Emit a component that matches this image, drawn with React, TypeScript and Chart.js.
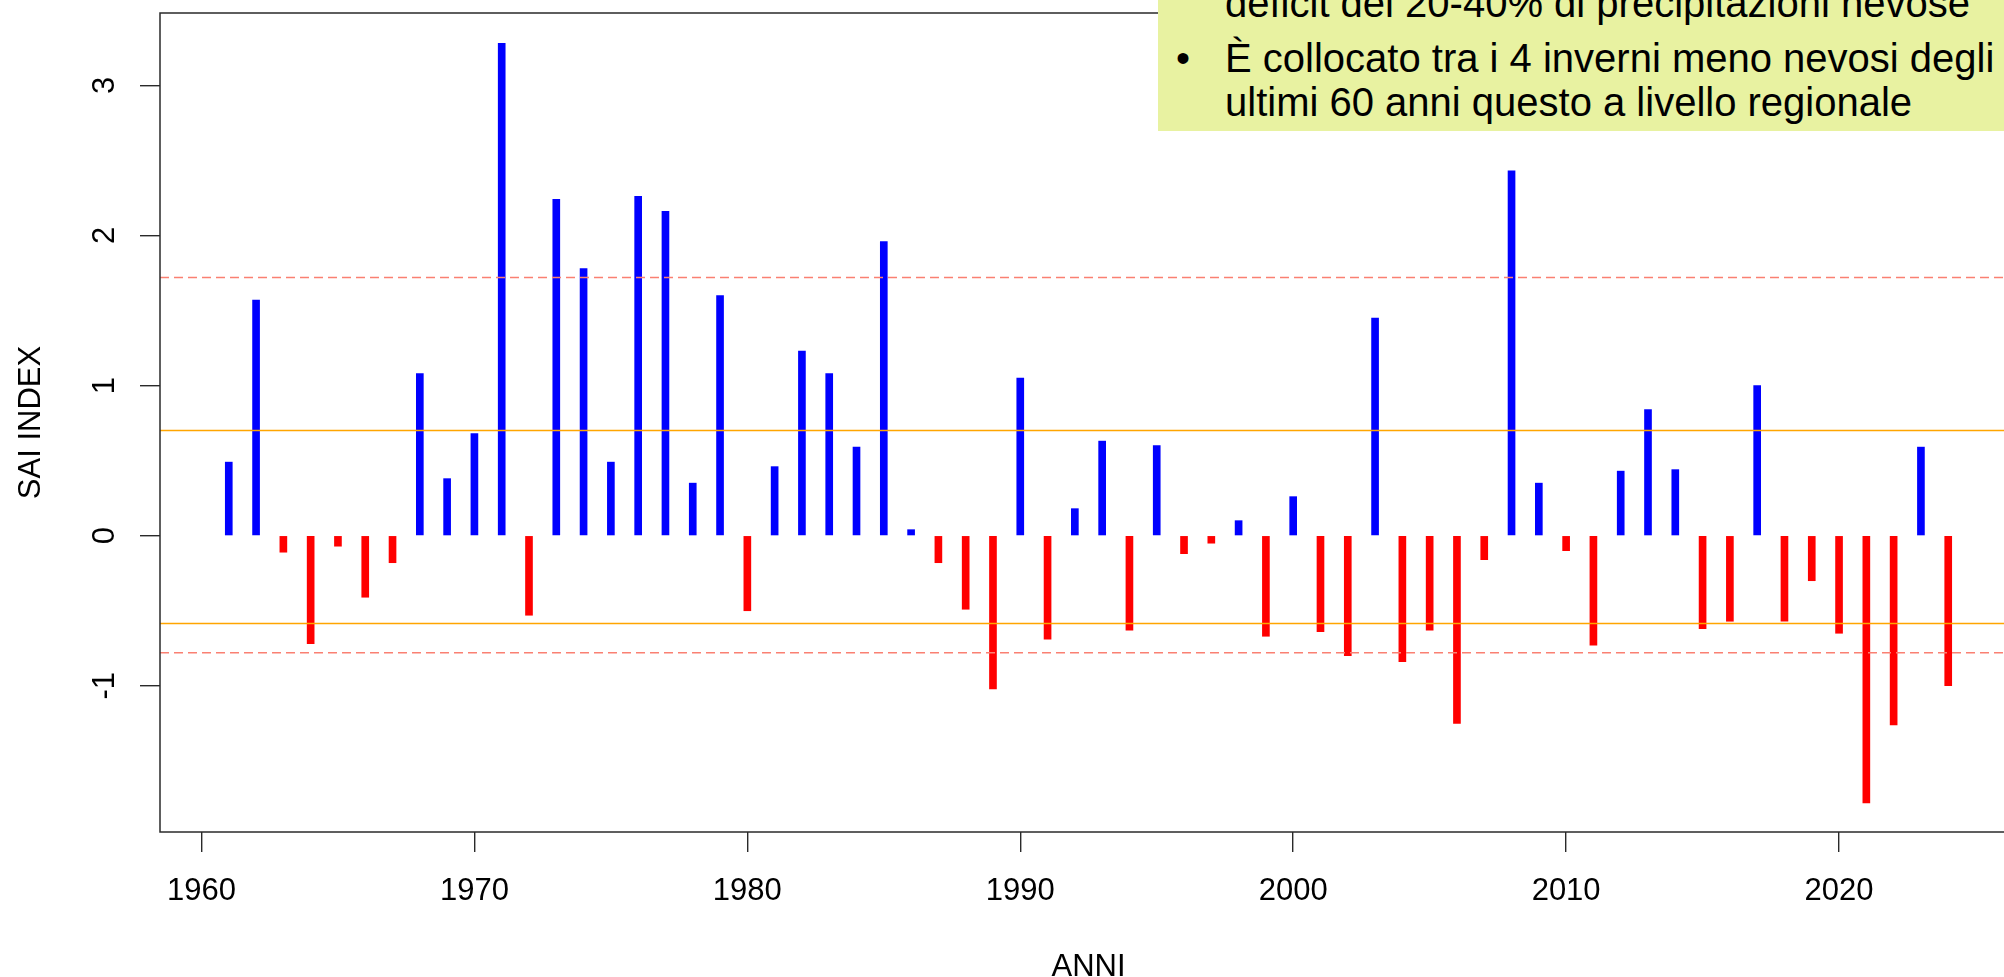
import React, { useEffect, useRef } from "react";
import { Chart, registerables } from "chart.js";

Chart.register(...registerables);

// ---- data ----
const YEARS = [
  1961, 1962, 1963, 1964, 1965, 1966, 1967, 1968, 1969, 1970,
  1971, 1972, 1973, 1974, 1975, 1976, 1977, 1978, 1979, 1980,
  1981, 1982, 1983, 1984, 1985, 1986, 1987, 1988, 1989, 1990,
  1991, 1992, 1993, 1994, 1995, 1996, 1997, 1998, 1999, 2000,
  2001, 2002, 2003, 2004, 2005, 2006, 2007, 2008, 2009, 2010,
  2011, 2012, 2013, 2014, 2015, 2016, 2017, 2018, 2019, 2020,
  2021, 2022, 2023, 2024,
];
const SAI = [
  0.49, 1.57, -0.11, -0.72, -0.07, -0.41, -0.18, 1.08, 0.38, 0.68,
  3.28, -0.53, 2.24, 1.78, 0.49, 2.26, 2.16, 0.35, 1.6, -0.5,
  0.46, 1.23, 1.08, 0.59, 1.96, 0.04, -0.18, -0.49, -1.02, 1.05,
  -0.69, 0.18, 0.63, -0.63, 0.6, -0.12, -0.05, 0.1, -0.67, 0.26,
  -0.64, -0.8, 1.45, -0.84, -0.63, -1.25, -0.16, 2.43, 0.35, -0.1,
  -0.73, 0.43, 0.84, 0.44, -0.62, -0.57, 1.0, -0.57, -0.3, -0.65,
  -1.78, -1.26, 0.59, -1.0,
];
const X_TICKS = [1960, 1970, 1980, 1990, 2000, 2010, 2020];
const Y_TICKS = [-1, 0, 1, 2, 3];
const X_RANGE = [1958.48, 2026.52];
const Y_RANGE = [-1.974, 3.482];
const DASHED_LEVELS = [1.72, -0.78];
const SOLID_LEVELS = [0.7, -0.585];
const X_TITLE = "ANNI";
const Y_TITLE = "SAI INDEX";
const NOTE_CUT_LINE = "deficit del 20-40% di precipitazioni nevose";
const NOTE_BULLET_LINES = [
  "È collocato tra i 4 inverni meno nevosi degli",
  "ultimi 60 anni questo a livello regionale",
];

const FONT = "'Liberation Sans', Arial, Helvetica, sans-serif";
const AXIS_COLOR = "#2a2a2a";

const frameAndLines = {
  id: "frameAndLines",
  afterDatasetsDraw(chart: any) {
    const { ctx, chartArea, scales } = chart;
    const y = scales.y;
    const { left, right, top, bottom } = chartArea;
    ctx.save();
    ctx.beginPath();
    ctx.rect(left, top, right - left, bottom - top);
    ctx.clip();
    ctx.lineWidth = 1.6;
    ctx.strokeStyle = "#FA8072";
    ctx.setLineDash([9, 5]);
    DASHED_LEVELS.forEach((v) => {
      const py = y.getPixelForValue(v);
      ctx.beginPath();
      ctx.moveTo(left, py);
      ctx.lineTo(right, py);
      ctx.stroke();
    });
    ctx.setLineDash([]);
    ctx.strokeStyle = "#FFA500";
    ctx.lineWidth = 1.5;
    SOLID_LEVELS.forEach((v) => {
      const py = y.getPixelForValue(v);
      ctx.beginPath();
      ctx.moveTo(left, py);
      ctx.lineTo(right, py);
      ctx.stroke();
    });
    ctx.restore();
    ctx.save();
    ctx.strokeStyle = AXIS_COLOR;
    ctx.lineWidth = 1.5;
    ctx.strokeRect(left, top, right - left, bottom - top);
    ctx.restore();
  },
};

export default function App() {
  const canvasRef = useRef<HTMLCanvasElement | null>(null);

  useEffect(() => {
    document.body.style.margin = "0";
    document.body.style.overflow = "hidden";
    const canvas = canvasRef.current;
    if (!canvas) return;
    const chart = new Chart(canvas, {
      type: "bar",
      data: {
        datasets: [
          {
            data: YEARS.map((yr, i) => ({ x: yr, y: SAI[i] })),
            backgroundColor: SAI.map((v) => (v >= 0 ? "#0000FF" : "#FF0000")),
            borderWidth: 0,
            barThickness: 7,
          },
        ],
      },
      options: {
        responsive: false,
        animation: false,
        events: [],
        layout: { padding: { left: 0, top: 13, right: 7, bottom: 0 } },
        plugins: {
          legend: { display: false },
          tooltip: { enabled: false },
          title: { display: false },
        },
        scales: {
          x: {
            type: "linear",
            min: X_RANGE[0],
            max: X_RANGE[1],
            offset: false,
            border: { display: false },
            grid: {
              display: true,
              drawOnChartArea: false,
              drawTicks: true,
              tickLength: 20,
              color: AXIS_COLOR,
              lineWidth: 1.4,
              offset: false,
            },
            afterBuildTicks: (scale: any) => {
              scale.ticks = X_TICKS.map((v) => ({ value: v }));
            },
            afterFit: (scale: any) => {
              scale.height = 145;
              scale.paddingLeft = 0;
              scale.paddingRight = 0;
            },
            ticks: {
              autoSkip: false,
              maxRotation: 0,
              minRotation: 0,
              padding: 21,
              color: "#000",
              font: { family: FONT, size: 31 },
              callback: (v: any) => String(v),
            },
            title: {
              display: true,
              text: X_TITLE,
              color: "#000",
              font: { family: FONT, size: 31, lineHeight: 1 },
              padding: { top: 0, bottom: -6 },
            },
          },
          y: {
            type: "linear",
            min: Y_RANGE[0],
            max: Y_RANGE[1],
            border: { display: false },
            grid: {
              display: true,
              drawOnChartArea: false,
              drawTicks: true,
              tickLength: 20,
              color: AXIS_COLOR,
              lineWidth: 1.4,
            },
            afterBuildTicks: (scale: any) => {
              scale.ticks = Y_TICKS.map((v) => ({ value: v }));
            },
            afterFit: (scale: any) => {
              scale.width = 160;
              scale.paddingTop = 0;
              scale.paddingBottom = 0;
            },
            ticks: {
              autoSkip: false,
              minRotation: 90,
              maxRotation: 90,
              crossAlign: "center",
              padding: 21,
              color: "#000",
              font: { family: FONT, size: 31 },
              callback: (v: any) => String(v),
            },
            title: {
              display: true,
              text: Y_TITLE,
              color: "#000",
              font: { family: FONT, size: 31, lineHeight: 1 },
              padding: { top: 15.5, bottom: 0 },
            },
          },
        },
      },
      plugins: [frameAndLines],
    } as any);
    return () => chart.destroy();
  }, []);

  return (
    <div
      style={{
        position: "fixed",
        left: 0,
        top: 0,
        width: 2004,
        height: 977,
        overflow: "hidden",
        background: "#ffffff",
      }}
    >
      <canvas ref={canvasRef} width={2024} height={977} style={{ display: "block" }} />
      <div
        style={{
          position: "absolute",
          left: 1158,
          top: 0,
          width: 846,
          height: 131,
          background: "#E8F2A1",
          overflow: "hidden",
          fontFamily: FONT,
          fontSize: 40,
          lineHeight: "44px",
          color: "#000",
          whiteSpace: "nowrap",
        }}
      >
        <div style={{ position: "absolute", left: 67, top: -19 }}>{NOTE_CUT_LINE}</div>
        <div style={{ position: "absolute", left: 18, top: 36 }}>•</div>
        <div style={{ position: "absolute", left: 67, top: 36 }}>
          {NOTE_BULLET_LINES.map((t, i) => (
            <div key={i}>{t}</div>
          ))}
        </div>
      </div>
    </div>
  );
}
